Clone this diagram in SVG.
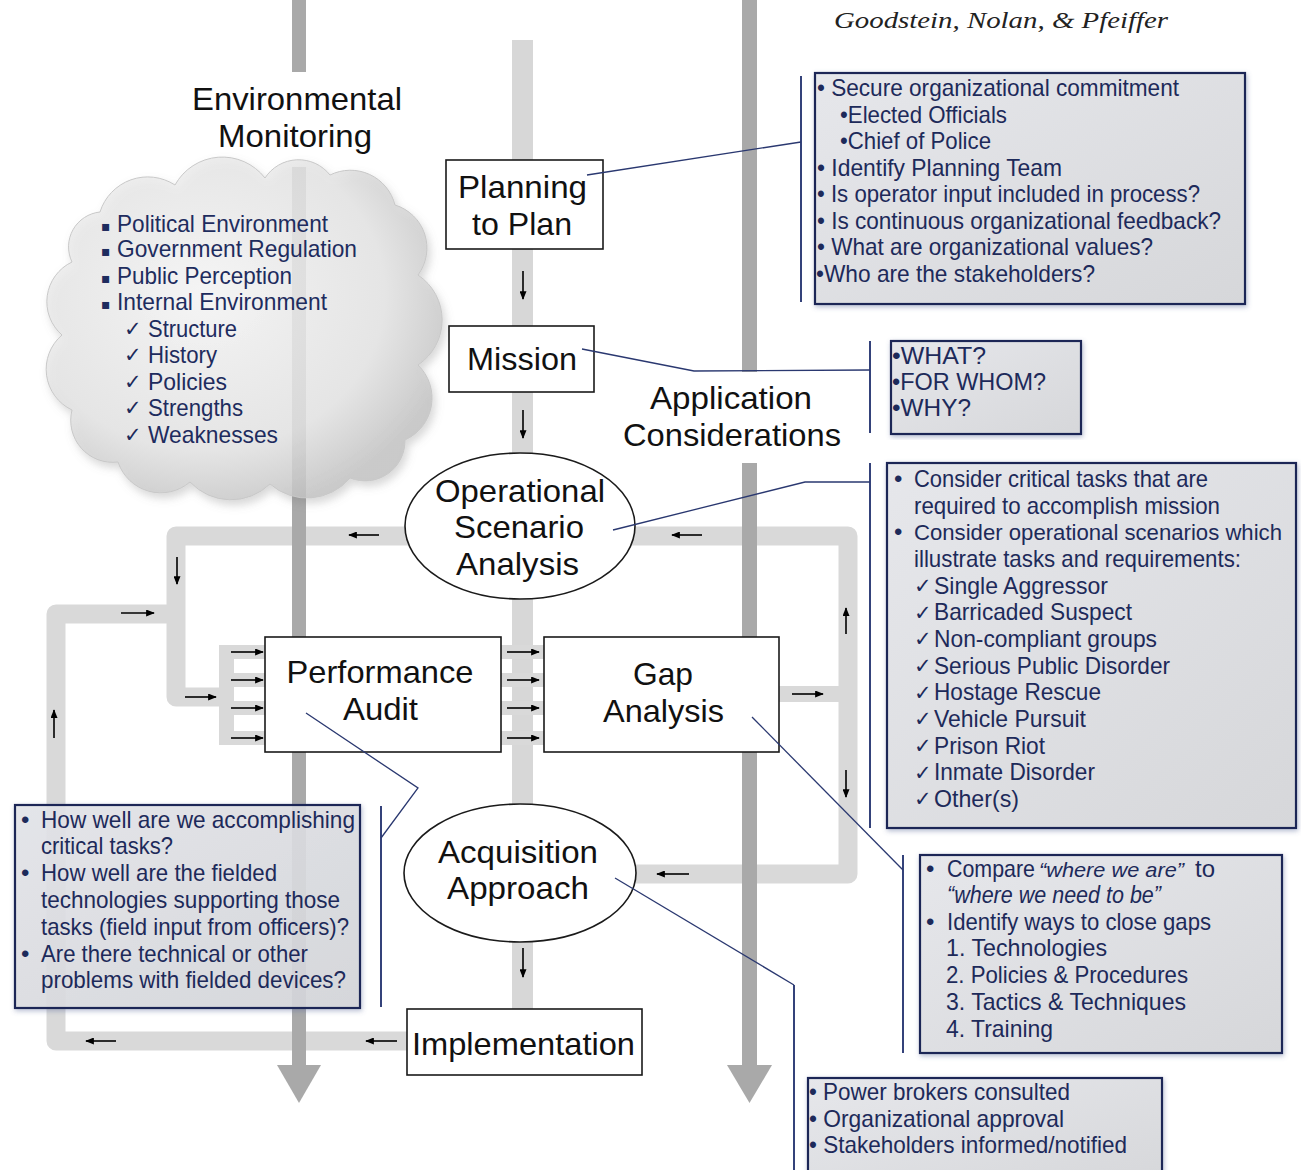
<svg xmlns="http://www.w3.org/2000/svg" width="1301" height="1170" viewBox="0 0 1301 1170">
<defs>
<style>
.bar{fill:#a9a9a9}
.mbar{fill:#d7d7d7}
.band{fill:none;stroke:#d9d9d9;stroke-width:19;stroke-linejoin:round}
.prong{fill:#d9d9d9}
.node{fill:#fff;stroke:#1a1a1a;stroke-width:1.6}
.lbl{font-family:"Liberation Sans",Arial,sans-serif;font-size:32px;fill:#111;text-anchor:middle}
.box{fill:url(#boxg);stroke:#1d2857;stroke-width:2.2;filter:url(#glow)}
.bt{font-family:"Liberation Sans Narrow","Liberation Sans",Arial,sans-serif;font-size:24px;fill:#1d2a5a}
.ck{font-family:"DejaVu Sans",sans-serif;font-size:21px;fill:#1d2a5a}
.sq{font-family:"DejaVu Sans",sans-serif;font-size:14px;fill:#1e2c5e}
.ldr{fill:none;stroke:#2a3870;stroke-width:1.3}
.brk{stroke:#34427a;stroke-width:2}
.arr{stroke:#000;stroke-width:1.6;marker-end:url(#ah)}
</style>
<marker id="ah" viewBox="0 0 10 8" refX="9" refY="4" markerWidth="9" markerHeight="7" markerUnits="userSpaceOnUse" orient="auto"><path d="M0,0 L10,4 L0,8 Z" fill="#000"/></marker>
<linearGradient id="boxg" x1="0" y1="0" x2="1" y2="1"><stop offset="0" stop-color="#e6e7eb"/><stop offset="1" stop-color="#d6d7da"/></linearGradient>
<radialGradient id="cloudg" cx="0.4" cy="0.4" r="0.65"><stop offset="0" stop-color="#f8f8f8"/><stop offset="0.7" stop-color="#e6e6e6"/><stop offset="1" stop-color="#c4c4c4"/></radialGradient>
<filter id="glow" x="-6%" y="-6%" width="112%" height="112%"><feDropShadow dx="1" dy="2" stdDeviation="2.5" flood-color="#5a6a9a" flood-opacity="0.45"/></filter>
<filter id="cshadow" x="-10%" y="-10%" width="120%" height="125%"><feDropShadow dx="3" dy="5" stdDeviation="4" flood-color="#777" flood-opacity="0.35"/></filter>
</defs>
<rect width="1301" height="1170" fill="#fff"/>

<g id="title">
<text x="834" y="28" font-family="Liberation Serif,serif" font-style="italic" font-size="24" fill="#222" textLength="334" lengthAdjust="spacingAndGlyphs">Goodstein, Nolan, &amp; Pfeiffer</text>
</g>

<g id="connectors">
<rect class="mbar" x="512" y="40" width="21" height="970"/>
<path class="band" d="M636 874 H848 V536 H176 V697 H226"/>
<path class="band" d="M408 1041 H56 V614 H176"/>
<rect class="prong" x="219" y="645" width="15" height="100"/>
<rect class="prong" x="219" y="645" width="47" height="14"/>
<rect class="prong" x="219" y="673" width="47" height="14"/>
<rect class="prong" x="219" y="701" width="47" height="14"/>
<rect class="prong" x="219" y="731" width="47" height="14"/>
<rect class="prong" x="500" y="645" width="45" height="14"/>
<rect class="prong" x="500" y="673" width="45" height="14"/>
<rect class="prong" x="500" y="701" width="45" height="14"/>
<rect class="prong" x="500" y="731" width="45" height="14"/>
<rect class="prong" x="778" y="686" width="62" height="16"/>
<rect class="bar" x="292" y="0" width="14" height="72"/>
<rect class="bar" x="292" y="167" width="14" height="898"/>
<polygon class="bar" points="277,1065 321,1065 299,1103"/>
<rect class="bar" x="742" y="0" width="15" height="372"/>
<rect class="bar" x="742" y="463" width="15" height="602"/>
<polygon class="bar" points="727,1065 772,1065 749.5,1103"/>
</g>

<g id="cloud">
<path d="M100,212 A50,50 0 0 1 175,185 A54,54 0 0 1 265,178 A40,40 0 0 1 330,175 A46,46 0 0 1 395,205 A45,45 0 0 1 418,275 A54,54 0 0 1 418,365 A46,46 0 0 1 405,440 A40,40 0 0 1 350,478 A56,56 0 0 1 270,484 A56,56 0 0 1 190,482 A45,45 0 0 1 118,462 A42,42 0 0 1 72,410 A45,45 0 0 1 62,335 A44,44 0 0 1 72,262 A35,35 0 0 1 100,212 Z" fill="url(#cloudg)" fill-opacity="0.8" stroke="#c8c8c8" stroke-width="1" filter="url(#cshadow)"/>
<g class="bt" style="fill:#1e2c5e">
<text x="101" y="231" class="sq">▪</text>
<text x="117" y="232" textLength="211" lengthAdjust="spacingAndGlyphs">Political Environment</text>
<text x="101" y="256" class="sq">▪</text>
<text x="117" y="257" textLength="240" lengthAdjust="spacingAndGlyphs">Government Regulation</text>
<text x="101" y="283" class="sq">▪</text>
<text x="117" y="284" textLength="175" lengthAdjust="spacingAndGlyphs">Public Perception</text>
<text x="101" y="309" class="sq">▪</text>
<text x="117" y="310" textLength="210" lengthAdjust="spacingAndGlyphs">Internal Environment</text>
<text x="124" y="336" class="ck">✓</text>
<text x="148" y="337" textLength="89" lengthAdjust="spacingAndGlyphs">Structure</text>
<text x="124" y="362" class="ck">✓</text>
<text x="148" y="363" textLength="69" lengthAdjust="spacingAndGlyphs">History</text>
<text x="124" y="389" class="ck">✓</text>
<text x="148" y="390" textLength="79" lengthAdjust="spacingAndGlyphs">Policies</text>
<text x="124" y="415" class="ck">✓</text>
<text x="148" y="416" textLength="95" lengthAdjust="spacingAndGlyphs">Strengths</text>
<text x="124" y="442" class="ck">✓</text>
<text x="148" y="443" textLength="130" lengthAdjust="spacingAndGlyphs">Weaknesses</text>
</g>
</g>

<g id="env-label">
<text class="lbl" x="297" y="110" textLength="210" lengthAdjust="spacingAndGlyphs">Environmental</text>
<text class="lbl" x="295" y="147" textLength="154" lengthAdjust="spacingAndGlyphs">Monitoring</text>
</g>
<g id="app-label">
<text class="lbl" x="731" y="409" textLength="162" lengthAdjust="spacingAndGlyphs">Application</text>
<text class="lbl" x="732" y="446" textLength="218" lengthAdjust="spacingAndGlyphs">Considerations</text>
</g>

<g id="planning">
<rect class="node" x="446" y="160" width="157" height="89"/>
<text class="lbl" x="522.5" y="198" textLength="129" lengthAdjust="spacingAndGlyphs">Planning</text>
<text class="lbl" x="522" y="235" textLength="100" lengthAdjust="spacingAndGlyphs">to Plan</text>
</g>
<g id="mission">
<rect class="node" x="449" y="326" width="145" height="66"/>
<text class="lbl" x="522" y="370" textLength="110" lengthAdjust="spacingAndGlyphs">Mission</text>
</g>
<g id="osa">
<ellipse class="node" cx="520" cy="526" rx="115" ry="73"/>
<text class="lbl" x="520" y="502" textLength="170" lengthAdjust="spacingAndGlyphs">Operational</text>
<text class="lbl" x="519" y="538" textLength="130" lengthAdjust="spacingAndGlyphs">Scenario</text>
<text class="lbl" x="517.5" y="575" textLength="123" lengthAdjust="spacingAndGlyphs">Analysis</text>
</g>
<g id="performance">
<rect class="node" x="265" y="637" width="236" height="115"/>
<text class="lbl" x="380" y="683" textLength="187" lengthAdjust="spacingAndGlyphs">Performance</text>
<text class="lbl" x="380.5" y="720" textLength="75" lengthAdjust="spacingAndGlyphs">Audit</text>
</g>
<g id="gap">
<rect class="node" x="544" y="637" width="235" height="115"/>
<text class="lbl" x="663" y="685" textLength="60" lengthAdjust="spacingAndGlyphs">Gap</text>
<text class="lbl" x="663.5" y="722" textLength="121" lengthAdjust="spacingAndGlyphs">Analysis</text>
</g>
<g id="acquisition">
<ellipse class="node" cx="520" cy="873" rx="116" ry="69"/>
<text class="lbl" x="518" y="863" textLength="160" lengthAdjust="spacingAndGlyphs">Acquisition</text>
<text class="lbl" x="518" y="899" textLength="142" lengthAdjust="spacingAndGlyphs">Approach</text>
</g>
<g id="implementation">
<rect class="node" x="407" y="1009" width="235" height="66"/>
<text class="lbl" x="523.5" y="1055" textLength="223" lengthAdjust="spacingAndGlyphs">Implementation</text>
</g>

<g id="box-planning">
<rect class="box" x="815" y="73" width="430" height="231"/>
<text class="bt" x="817" y="96" textLength="362" lengthAdjust="spacingAndGlyphs">• Secure organizational commitment</text>
<text class="bt" x="840" y="122.5" textLength="167" lengthAdjust="spacingAndGlyphs">•Elected Officials</text>
<text class="bt" x="840" y="149" textLength="151" lengthAdjust="spacingAndGlyphs">•Chief of Police</text>
<text class="bt" x="817" y="175.5" textLength="245" lengthAdjust="spacingAndGlyphs">• Identify Planning Team</text>
<text class="bt" x="817" y="202" textLength="383" lengthAdjust="spacingAndGlyphs">• Is  operator input included in process?</text>
<text class="bt" x="817" y="228.5" textLength="404" lengthAdjust="spacingAndGlyphs">• Is  continuous organizational feedback?</text>
<text class="bt" x="817" y="255" textLength="336" lengthAdjust="spacingAndGlyphs">• What are organizational values?</text>
<text class="bt" x="816" y="281.5" textLength="279" lengthAdjust="spacingAndGlyphs">•Who are the stakeholders?</text>
</g>
<g id="box-mission">
<rect class="box" x="891" y="341" width="190" height="93"/>
<text class="bt" x="892" y="364" textLength="94" lengthAdjust="spacingAndGlyphs">•WHAT?</text>
<text class="bt" x="892" y="390" textLength="154" lengthAdjust="spacingAndGlyphs">•FOR WHOM?</text>
<text class="bt" x="892" y="416" textLength="79" lengthAdjust="spacingAndGlyphs">•WHY?</text>
</g>
<g id="box-scenario">
<rect class="box" x="887" y="463" width="409" height="365"/>
<text class="bt" x="894" y="487">•</text>
<text class="bt" x="914" y="487" textLength="294" lengthAdjust="spacingAndGlyphs">Consider critical tasks that are</text>
<text class="bt" x="914" y="513.7" textLength="306" lengthAdjust="spacingAndGlyphs">required to accomplish mission</text>
<text class="bt" x="894" y="540.3">•</text>
<text class="bt" x="914" y="540.3" textLength="368" lengthAdjust="spacingAndGlyphs" style="font-size:21.5px">Consider operational scenarios which</text>
<text class="bt" x="914" y="567" textLength="327" lengthAdjust="spacingAndGlyphs">illustrate tasks and requirements:</text>
<text class="ck" x="914" y="593">✓</text><text class="bt" x="934" y="593.7" textLength="174" lengthAdjust="spacingAndGlyphs">Single Aggressor</text>
<text class="ck" x="914" y="620">✓</text><text class="bt" x="934" y="620.3" textLength="198" lengthAdjust="spacingAndGlyphs">Barricaded Suspect</text>
<text class="ck" x="914" y="646">✓</text><text class="bt" x="934" y="647" textLength="223" lengthAdjust="spacingAndGlyphs">Non-compliant groups</text>
<text class="ck" x="914" y="673">✓</text><text class="bt" x="934" y="673.7" textLength="236" lengthAdjust="spacingAndGlyphs">Serious Public Disorder</text>
<text class="ck" x="914" y="700">✓</text><text class="bt" x="934" y="700.3" textLength="167" lengthAdjust="spacingAndGlyphs">Hostage Rescue</text>
<text class="ck" x="914" y="726">✓</text><text class="bt" x="934" y="727" textLength="152" lengthAdjust="spacingAndGlyphs">Vehicle Pursuit</text>
<text class="ck" x="914" y="753">✓</text><text class="bt" x="934" y="753.7" textLength="111" lengthAdjust="spacingAndGlyphs">Prison Riot</text>
<text class="ck" x="914" y="780">✓</text><text class="bt" x="934" y="780.3" textLength="161" lengthAdjust="spacingAndGlyphs">Inmate Disorder</text>
<text class="ck" x="914" y="806">✓</text><text class="bt" x="934" y="807" textLength="85" lengthAdjust="spacingAndGlyphs">Other(s)</text>
</g>
<g id="box-gap">
<rect class="box" x="920" y="855" width="362" height="198"/>
<text class="bt" x="926" y="877">•</text>
<text class="bt" x="947" y="877" textLength="88" lengthAdjust="spacingAndGlyphs">Compare</text>
<text class="bt" x="1039" y="877" textLength="145" lengthAdjust="spacingAndGlyphs" font-style="italic" style="font-size:21px">“where we are”</text>
<text class="bt" x="1195" y="877" textLength="20" lengthAdjust="spacingAndGlyphs">to</text>
<text class="bt" x="947" y="903" textLength="214" lengthAdjust="spacingAndGlyphs" font-style="italic">“where we need to be”</text>
<text class="bt" x="926" y="930">•</text>
<text class="bt" x="947" y="930" textLength="264" lengthAdjust="spacingAndGlyphs">Identify ways to close gaps</text>
<text class="bt" x="946" y="956" textLength="161" lengthAdjust="spacingAndGlyphs">1. Technologies</text>
<text class="bt" x="946" y="983" textLength="242" lengthAdjust="spacingAndGlyphs">2. Policies &amp; Procedures</text>
<text class="bt" x="946" y="1010" textLength="240" lengthAdjust="spacingAndGlyphs">3. Tactics &amp; Techniques</text>
<text class="bt" x="946" y="1037" textLength="107" lengthAdjust="spacingAndGlyphs">4. Training</text>
</g>
<g id="box-acquisition">
<rect class="box" x="808" y="1078" width="354" height="110"/>
<text class="bt" x="809" y="1100" textLength="261" lengthAdjust="spacingAndGlyphs">• Power brokers consulted</text>
<text class="bt" x="809" y="1127" textLength="255" lengthAdjust="spacingAndGlyphs">• Organizational approval</text>
<text class="bt" x="809" y="1153" textLength="318" lengthAdjust="spacingAndGlyphs">• Stakeholders informed/notified</text>
</g>
<g id="box-performance">
<rect class="box" x="15" y="805" width="345" height="203" fill-opacity="0.88"/>
<text class="bt" x="21" y="828">•</text>
<text class="bt" x="41" y="828" textLength="314" lengthAdjust="spacingAndGlyphs">How  well are we accomplishing</text>
<text class="bt" x="41" y="854" textLength="132" lengthAdjust="spacingAndGlyphs">critical tasks?</text>
<text class="bt" x="21" y="881">•</text>
<text class="bt" x="41" y="881" textLength="236" lengthAdjust="spacingAndGlyphs">How well are the fielded</text>
<text class="bt" x="41" y="908" textLength="299" lengthAdjust="spacingAndGlyphs">technologies supporting those</text>
<text class="bt" x="41" y="935" textLength="308" lengthAdjust="spacingAndGlyphs">tasks (field input from officers)?</text>
<text class="bt" x="21" y="962">•</text>
<text class="bt" x="41" y="962" textLength="267" lengthAdjust="spacingAndGlyphs">Are there technical or other</text>
<text class="bt" x="41" y="988" textLength="305" lengthAdjust="spacingAndGlyphs">problems with fielded devices?</text>
</g>

<g id="leaders">
<line class="brk" x1="801" y1="76" x2="801" y2="302"/>
<line class="brk" x1="870" y1="341" x2="870" y2="433"/>
<line class="brk" x1="870" y1="463" x2="870" y2="828"/>
<line class="brk" x1="903" y1="855" x2="903" y2="1053"/>
<line class="brk" x1="794" y1="985" x2="794" y2="1170"/>
<line class="brk" x1="381" y1="806" x2="381" y2="1007"/>
<polyline class="ldr" points="587,175 801,142"/>
<polyline class="ldr" points="582,349 694,371 870,370"/>
<polyline class="ldr" points="613,530 805,482 870,482"/>
<polyline class="ldr" points="306,713 418,788 381,838"/>
<polyline class="ldr" points="752,717 903,870"/>
<polyline class="ldr" points="615,878 794,985"/>
</g>

<g id="arrows">
<line class="arr" x1="523" y1="271" x2="523" y2="299"/>
<line class="arr" x1="523" y1="410" x2="523" y2="438"/>
<line class="arr" x1="379" y1="535" x2="349" y2="535"/>
<line class="arr" x1="702" y1="535" x2="672" y2="535"/>
<line class="arr" x1="177" y1="557" x2="177" y2="584"/>
<line class="arr" x1="121" y1="613" x2="154" y2="613"/>
<line class="arr" x1="185" y1="697" x2="216" y2="697"/>
<line class="arr" x1="231" y1="652" x2="263" y2="652"/>
<line class="arr" x1="231" y1="680" x2="263" y2="680"/>
<line class="arr" x1="231" y1="708" x2="263" y2="708"/>
<line class="arr" x1="231" y1="738" x2="263" y2="738"/>
<line class="arr" x1="507" y1="652" x2="539" y2="652"/>
<line class="arr" x1="507" y1="680" x2="539" y2="680"/>
<line class="arr" x1="507" y1="708" x2="539" y2="708"/>
<line class="arr" x1="507" y1="738" x2="539" y2="738"/>
<line class="arr" x1="792" y1="694" x2="823" y2="694"/>
<line class="arr" x1="846" y1="634" x2="846" y2="608"/>
<line class="arr" x1="846" y1="770" x2="846" y2="797"/>
<line class="arr" x1="689" y1="874" x2="657" y2="874"/>
<line class="arr" x1="523" y1="948" x2="523" y2="977"/>
<line class="arr" x1="397" y1="1041" x2="366" y2="1041"/>
<line class="arr" x1="116" y1="1041" x2="86" y2="1041"/>
<line class="arr" x1="54" y1="738" x2="54" y2="710"/>
</g>
</svg>
